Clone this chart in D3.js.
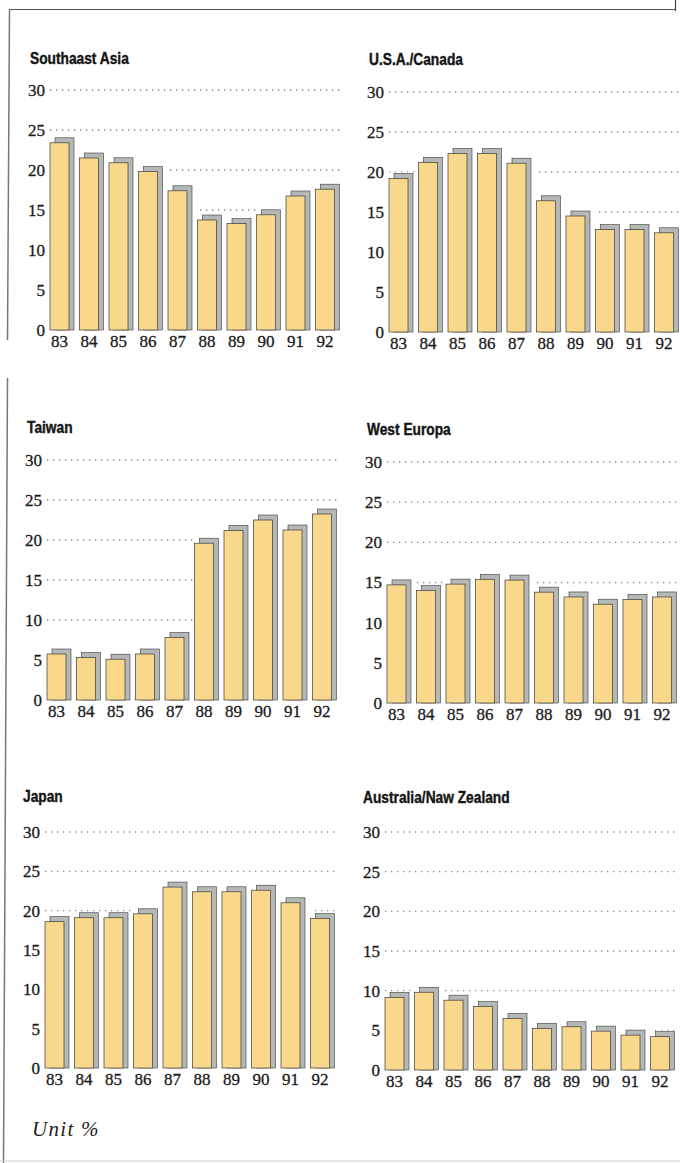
<!DOCTYPE html>
<html>
<head>
<meta charset="utf-8">
<script src="https://cdn.jsdelivr.net/npm/d3@7"></script>
<style>
  body { margin: 0; background: #fff; }
  .title { font-family: "Liberation Sans", Arial, sans-serif; font-weight: bold; font-size: 16px; fill: #151515; stroke: #151515; stroke-width: 0.4px; }
  .tick text { font-family: "Liberation Serif", serif; font-size: 17px; fill: #1a1a1a; stroke: #1a1a1a; stroke-width: 0.3px; }
  .unit { font-family: "Liberation Serif", serif; font-style: italic; font-size: 21px; fill: #222; letter-spacing: 1.3px; }
</style>
</head>
<body>
<div id="d3-container"></div>
<script>
/**
 * CONSTANTS AND GLOBALS
 * */
const width = 680,
  height = 1163;

/**
 * DATA
 * */
const years = ["83", "84", "85", "86", "87", "88", "89", "90", "91", "92"];
const yTicks = [0, 5, 10, 15, 20, 25, 30];
const regionNames = ["Southaast Asia", "U.S.A./Canada", "Taiwan", "West Europa", "Japan", "Australia/Naw Zealand"];

const southeastAsia = [23.4, 21.5, 20.9, 19.8, 17.4, 13.75, 13.3, 14.4, 16.75, 17.6];
const usaCanada = [19.2, 21.2, 22.3, 22.3, 21.1, 16.4, 14.5, 12.8, 12.8, 12.4];
const taiwan = [5.75, 5.3, 5.1, 5.75, 7.8, 19.6, 21.2, 22.5, 21.25, 23.25];
const westEuropa = [14.7, 14.0, 14.8, 15.4, 15.3, 13.8, 13.2, 12.3, 12.9, 13.2];
const japan = [18.6, 19.1, 19.1, 19.6, 23.0, 22.4, 22.4, 22.6, 21.0, 19.0];
const australiaNZ = [9.15, 9.8, 8.8, 8.0, 6.5, 5.25, 5.45, 4.9, 4.4, 4.2];

const seriesList = [southeastAsia, usaCanada, taiwan, westEuropa, japan, australiaNZ];

// where each small panel sits on the page (first bar left edge, zero line, 30 line, title)
const layout = [
  { left: 50, base: 330, top: 90, titleX: 30, titleY: 64 },
  { left: 389, base: 332, top: 92, titleX: 369, titleY: 65 },
  { left: 47, base: 700, top: 460, titleX: 27, titleY: 433 },
  { left: 387, base: 703, top: 462, titleX: 367, titleY: 435 },
  { left: 45, base: 1068, top: 832, titleX: 23, titleY: 802 },
  { left: 385, base: 1070, top: 832, titleX: 363, titleY: 803 },
];

const step = 29.5,
  barW = 19,
  shadow = 5;

const yellow = "#f9d88b",
  grey = "#b4b8b7",
  edge = "#3a3a3a";

let svg;

init();

function init() {
  svg = d3
    .select("#d3-container")
    .append("svg")
    .attr("width", width)
    .attr("height", height);

  // page frame
  svg.append("line").attr("x1", 9).attr("y1", 9.5).attr("x2", 676).attr("y2", 9.5)
    .attr("stroke", "#555").attr("stroke-width", 1.2);
  svg.append("line").attr("x1", 675.5).attr("y1", 0).attr("x2", 675.5).attr("y2", 11)
    .attr("stroke", "#444").attr("stroke-width", 1.2);
  svg.append("line").attr("x1", 9.5).attr("y1", 9.5).attr("x2", 7.5).attr("y2", 340)
    .attr("stroke", "#777").attr("stroke-width", 1.5);
  svg.append("line").attr("x1", 7.5).attr("y1", 378).attr("x2", 3.5).attr("y2", 1163)
    .attr("stroke", "#777").attr("stroke-width", 1.5);
  svg.append("line").attr("x1", 0).attr("y1", 1161).attr("x2", 680).attr("y2", 1161)
    .attr("stroke", "#ccc").attr("stroke-width", 1);

  layout.forEach((p, i) => drawPanel(p, regionNames[i], seriesList[i]));

  svg.append("text")
    .attr("class", "unit")
    .attr("x", 32)
    .attr("y", 1136)
    .text("Unit %");
}

function drawPanel(p, name, values) {
  const rows = years.map((y, i) => ({ year: y, value: values[i] }));

  const x = d3.scaleBand()
    .domain(years)
    .range([p.left, p.left + step * (years.length - 1) + barW])
    .paddingInner((step - barW) / step)
    .paddingOuter(0);

  const y = d3.scaleLinear().domain([0, 30]).range([p.base, p.top]);

  const g = svg.append("g");

  // condensed heavy heading: squeeze a bold sans horizontally
  g.append("text")
    .attr("class", "title")
    .attr("transform", `translate(${p.titleX},${p.titleY}) scale(0.86,1)`)
    .text(name);

  // dotted guide lines
  g.selectAll("line.grid")
    .data(yTicks.filter(d => d > 0))
    .join("line")
    .attr("class", "grid")
    .attr("x1", p.left)
    .attr("x2", p.left + 290)
    .attr("y1", d => y(d))
    .attr("y2", d => y(d))
    .attr("stroke", "#888")
    .attr("stroke-width", 1.3)
    .attr("stroke-dasharray", "1.3 4.7");

  // the bars hide the guide lines in their whole slot
  g.selectAll("rect.mask")
    .data(rows)
    .join("rect")
    .attr("class", "mask")
    .attr("x", d => x(d.year))
    .attr("width", x.step())
    .attr("y", d => y(d.value) - shadow - 1)
    .attr("height", d => p.base - y(d.value) + shadow + 1)
    .attr("fill", "#fff");

  g.selectAll("rect.shadow")
    .data(rows)
    .join("rect")
    .attr("class", "shadow")
    .attr("x", d => x(d.year) + shadow)
    .attr("y", d => y(d.value) - shadow)
    .attr("width", x.bandwidth())
    .attr("height", d => p.base - y(d.value) + shadow)
    .attr("fill", grey)
    .attr("stroke", edge)
    .attr("stroke-width", 0.6);

  g.selectAll("rect.bar")
    .data(rows)
    .join("rect")
    .attr("class", "bar")
    .attr("x", d => x(d.year))
    .attr("y", d => y(d.value))
    .attr("width", x.bandwidth())
    .attr("height", d => p.base - y(d.value))
    .attr("fill", yellow)
    .attr("stroke", edge)
    .attr("stroke-width", 0.7);

  // axes, with the domain and tick marks removed
  const yAxis = g.append("g")
    .attr("transform", `translate(${p.left - 5},0)`)
    .call(d3.axisLeft(y).tickValues(yTicks).tickSize(0).tickPadding(0));
  yAxis.select(".domain").remove();
  yAxis.attr("font-size", null).attr("font-family", null);

  const xAxis = g.append("g")
    .attr("transform", `translate(0,${p.base})`)
    .call(d3.axisBottom(x).tickSize(0).tickPadding(5));
  xAxis.select(".domain").remove();
  xAxis.attr("font-size", null).attr("font-family", null);
}
</script>
</body>
</html>
